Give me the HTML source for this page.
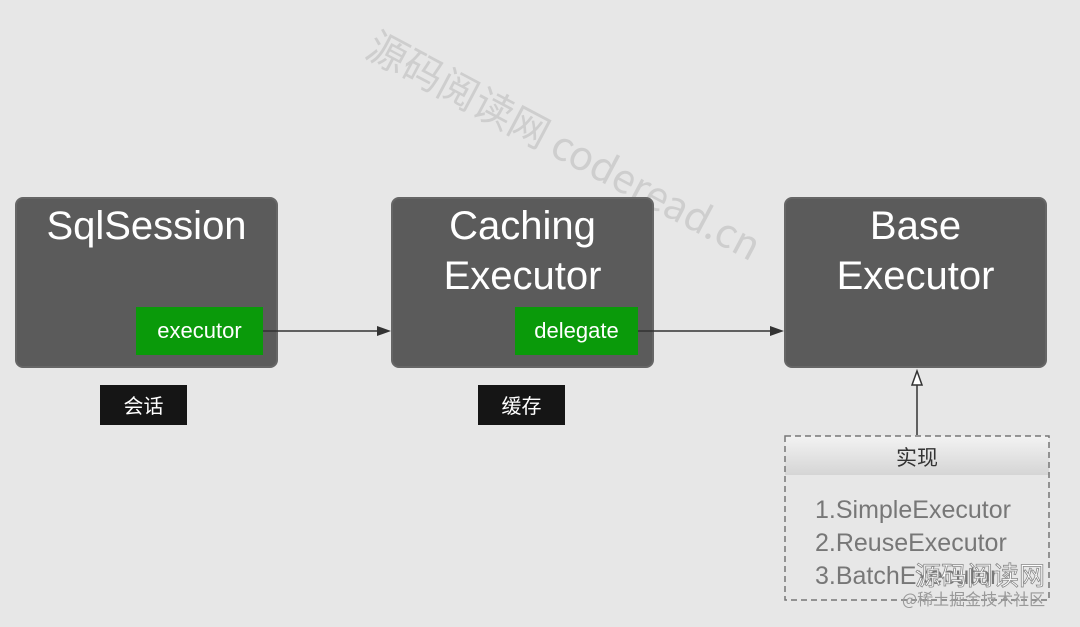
<!DOCTYPE html>
<html><head><meta charset="utf-8"><style>
body{margin:0;width:1080px;height:627px;background:#e7e7e7;position:relative;overflow:hidden;font-family:"Liberation Sans","Noto Sans CJK SC",sans-serif}
.box{position:absolute;background:#5b5b5b;border-radius:8px;border:2px solid #666;box-sizing:border-box;color:#fff;text-align:center;font-size:40px;line-height:50px}
.g{position:absolute;background:#0a9a0a;color:#fff;font-size:22px;text-align:center;line-height:48px}
.lbl{position:absolute;background:#151515;color:#fff;font-size:20px;text-align:center;line-height:40px;font-family:"Noto Sans CJK SC",sans-serif}
.wm{position:absolute;color:rgba(150,150,150,0.3);font-size:40px;transform:rotate(28deg);transform-origin:left top;font-family:"Noto Sans CJK SC",sans-serif;white-space:nowrap}
</style></head><body>
<div class="wm" style="left:385px;top:15px">源码阅读网 coderead.cn</div>
<div class="box" style="left:15px;top:197px;width:263px;height:171px;padding-top:2px">SqlSession</div>
<div class="box" style="left:391px;top:197px;width:263px;height:171px;padding-top:2px">Caching<br>Executor</div>
<div class="box" style="left:784px;top:197px;width:263px;height:171px;padding-top:2px">Base<br>Executor</div>
<div class="g" style="left:136px;top:307px;width:127px;height:48px">executor</div>
<div class="g" style="left:515px;top:307px;width:123px;height:48px">delegate</div>
<div class="lbl" style="left:100px;top:385px;width:87px;height:40px">会话</div>
<div class="lbl" style="left:478px;top:385px;width:87px;height:40px">缓存</div>
<svg style="position:absolute;left:0;top:0" width="1080" height="627">
<line x1="263" y1="331" x2="380" y2="331" stroke="#333" stroke-width="1.5"/>
<polygon points="391,331 377,326 377,336" fill="#333"/>
<line x1="638" y1="331" x2="773" y2="331" stroke="#333" stroke-width="1.5"/>
<polygon points="784,331 770,326 770,336" fill="#333"/>
<line x1="917" y1="435" x2="917" y2="384" stroke="#333" stroke-width="1.5"/>
<polygon points="917,371 912,385 922,385" fill="#fff" stroke="#333" stroke-width="1.5"/>
<defs><linearGradient id="h" x1="0" y1="0" x2="0" y2="1"><stop offset="0" stop-color="#f3f3f3"/><stop offset="1" stop-color="#d5d5d5"/></linearGradient></defs>
<rect x="785" y="436" width="264" height="39" fill="url(#h)"/>
<rect x="785" y="436" width="264" height="164" fill="none" stroke="#777" stroke-width="1.5" stroke-dasharray="6,4"/>
<text x="917" y="465" font-size="21" text-anchor="middle" fill="#333" font-family="Noto Sans CJK SC,sans-serif">实现</text>
<g font-size="25" fill="#777" font-family="Liberation Sans,sans-serif">
<text x="815" y="518">1.SimpleExecutor</text>
<text x="815" y="551">2.ReuseExecutor</text>
<text x="815" y="584">3.BatchExecutor</text>
</g>
<text x="915" y="585" font-size="26" fill="#fff" stroke="#888" stroke-width="0.8" font-family="Noto Sans CJK SC,sans-serif">源码阅读网</text>
<text x="902" y="605" font-size="16" fill="#999" font-family="Noto Sans CJK SC,sans-serif">@稀土掘金技术社区</text>
</svg>
</body></html>
